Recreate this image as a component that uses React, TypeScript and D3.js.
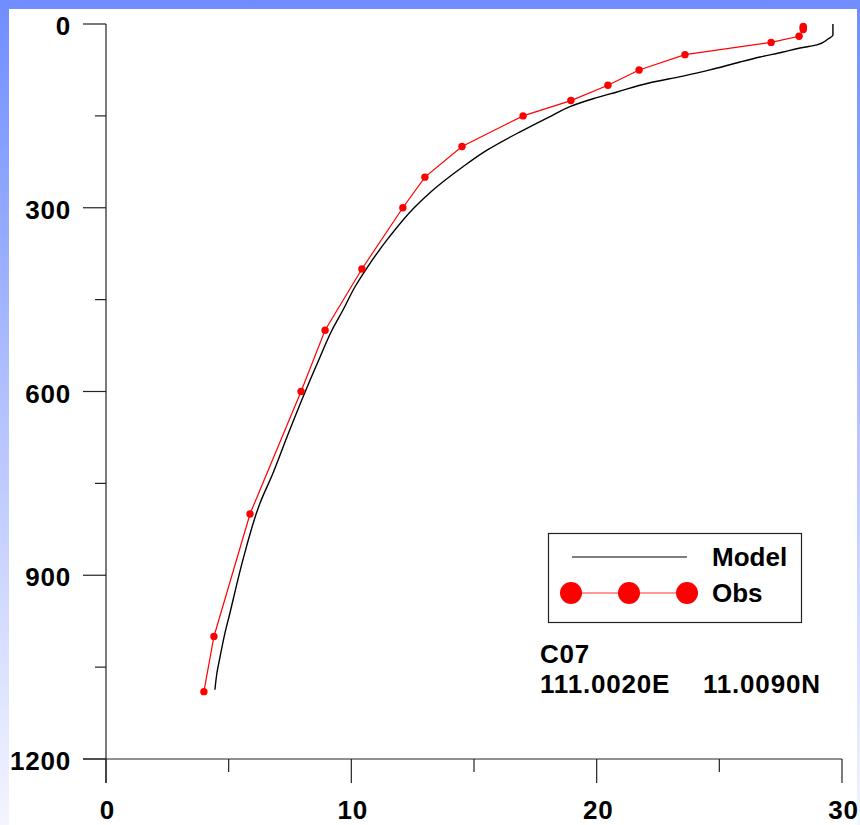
import React from "react";
import * as d3 from "d3";

// Observed profile: temperature (°C) and depth (m)
const obsTemp = [28.42, 28.42, 28.42, 28.25, 27.11, 23.6, 21.73, 20.46, 18.95, 17.0, 14.51, 13.0, 12.1, 10.43, 8.93, 7.95, 5.87, 4.4, 3.99];
const obsDepth = [4, 6, 9, 20, 30, 50, 75, 100, 125, 150, 200, 250, 300, 400, 500, 600, 800, 1000, 1090];

// Model profile: temperature (°C) and depth (m)
const modelTemp = [29.63, 29.63, 29.43, 28.98, 28.29, 27.6, 26.66, 25.84, 24.62, 23.52, 22.17, 20.83, 19.85, 18.91, 18.22, 16.88, 15.53, 14.55, 13.33, 12.56, 11.54, 10.64, 10.15, 9.66, 9.21, 8.72, 8.03, 7.38, 6.81, 6.28, 5.58, 5.18, 5.05, 4.85, 4.65, 4.52, 4.44];
const modelDepth = [0, 18, 24.5, 34, 39.2, 45.7, 53.9, 62, 75, 85, 96, 111, 122, 135, 148.6, 176, 206, 233, 271, 300, 348, 398, 429, 467, 500, 544, 609, 674, 733, 782, 875, 940, 962, 994, 1033, 1060, 1087];

const xMajor = [0, 10, 20, 30];
const xMinor = [5, 15, 25];
const yMajor = [0, 300, 600, 900, 1200];
const yMinor = [150, 450, 750, 1050];

const stationName = "C07";
const stationLon = "111.0020E";
const stationLat = "11.0090N";

const W = 860;
const H = 825;
const FONT = "'Liberation Sans', Arial, sans-serif";

export default function App() {
  const x = d3.scaleLinear().domain([0, 30]).range([106, 842]);
  const y = d3.scaleLinear().domain([0, 1200]).range([24, 759]);

  const obs = obsTemp.map((t, i) => ({ t, d: obsDepth[i] }));
  const model = modelTemp.map((t, i) => ({ t, d: modelDepth[i] }));

  const obsLine = d3
    .line<{ t: number; d: number }>()
    .x((p) => x(p.t))
    .y((p) => y(p.d));
  const modelLine = d3
    .line<{ t: number; d: number }>()
    .x((p) => x(p.t))
    .y((p) => y(p.d))
    .curve(d3.curveMonotoneY);

  const axisColor = "#222";
  const numSpacing = 0.8;

  return (
    <svg
      width={W}
      height={H}
      style={{ position: "absolute", left: 0, top: 0, display: "block" }}
      fontFamily={FONT}
    >
      <defs>
        <linearGradient id="bg" x1="0" y1="0" x2="0" y2="1">
          <stop offset="0" stopColor="#6f8dff" />
          <stop offset="0.5" stopColor="#b4c2ff" />
          <stop offset="1" stopColor="#f4f5ff" />
        </linearGradient>
      </defs>
      <rect x={0} y={0} width={W} height={H} fill="url(#bg)" />
      <rect x={9} y={9} width={848} height={H - 9} fill="#fff" />

      {/* Y axis */}
      <line x1={106} x2={106} y1={y(0)} y2={783} stroke={axisColor} strokeWidth={1.2} />
      {yMajor.map((v) => (
        <g key={"ym" + v}>
          <line x1={83} x2={106} y1={y(v)} y2={y(v)} stroke={axisColor} strokeWidth={1.2} />
          <text
            x={71}
            y={y(v) + 11}
            textAnchor="end"
            fontSize={26}
            fontWeight="bold"
            letterSpacing={numSpacing}
            fill="#000"
          >
            {v}
          </text>
        </g>
      ))}
      {yMinor.map((v) => (
        <line key={"yn" + v} x1={95} x2={106} y1={y(v)} y2={y(v)} stroke={axisColor} strokeWidth={1.2} />
      ))}

      {/* X axis */}
      <line x1={83} x2={x(30)} y1={y(1200)} y2={y(1200)} stroke={axisColor} strokeWidth={1.2} />
      {xMajor.map((v) => (
        <g key={"xm" + v}>
          <line x1={x(v)} x2={x(v)} y1={y(1200)} y2={783} stroke={axisColor} strokeWidth={1.2} />
          <text
            x={x(v) + 1.5}
            y={819}
            textAnchor="middle"
            fontSize={26}
            fontWeight="bold"
            letterSpacing={numSpacing}
            fill="#000"
          >
            {v}
          </text>
        </g>
      ))}
      {xMinor.map((v) => (
        <line key={"xn" + v} x1={x(v)} x2={x(v)} y1={y(1200)} y2={772} stroke={axisColor} strokeWidth={1.2} />
      ))}

      {/* Model profile */}
      <path d={modelLine(model) || ""} fill="none" stroke="#000" strokeWidth={1.4} />

      {/* Observed profile */}
      <path d={obsLine(obs) || ""} fill="none" stroke="#ff0000" strokeWidth={1.2} />
      {obs.map((p, i) => (
        <circle key={"o" + i} cx={x(p.t)} cy={y(p.d)} r={3.7} fill="#ff0000" />
      ))}

      {/* Legend */}
      <rect x={548.5} y={533.5} width={253} height={89} fill="#fff" stroke="#222" strokeWidth={1.2} />
      <line x1={572} x2={687} y1={557} y2={557} stroke="#000" strokeWidth={1.2} />
      <text x={712} y={566} fontSize={26} fontWeight="bold" fill="#000">
        Model
      </text>
      <line x1={571} x2={687} y1={593} y2={593} stroke="#ff3030" strokeWidth={1.2} />
      {[571, 629, 687].map((cx) => (
        <circle key={"lg" + cx} cx={cx} cy={593} r={11} fill="#ff0000" />
      ))}
      <text x={712} y={602} fontSize={26} fontWeight="bold" fill="#000">
        Obs
      </text>

      {/* Station annotation */}
      <text x={540} y={663} fontSize={26} fontWeight="bold" letterSpacing={numSpacing} fill="#000">
        {stationName}
      </text>
      <text x={540} y={693} fontSize={26} fontWeight="bold" letterSpacing={numSpacing} fill="#000">
        {stationLon}
      </text>
      <text x={703} y={693} fontSize={26} fontWeight="bold" letterSpacing={numSpacing} fill="#000">
        {stationLat}
      </text>
    </svg>
  );
}
